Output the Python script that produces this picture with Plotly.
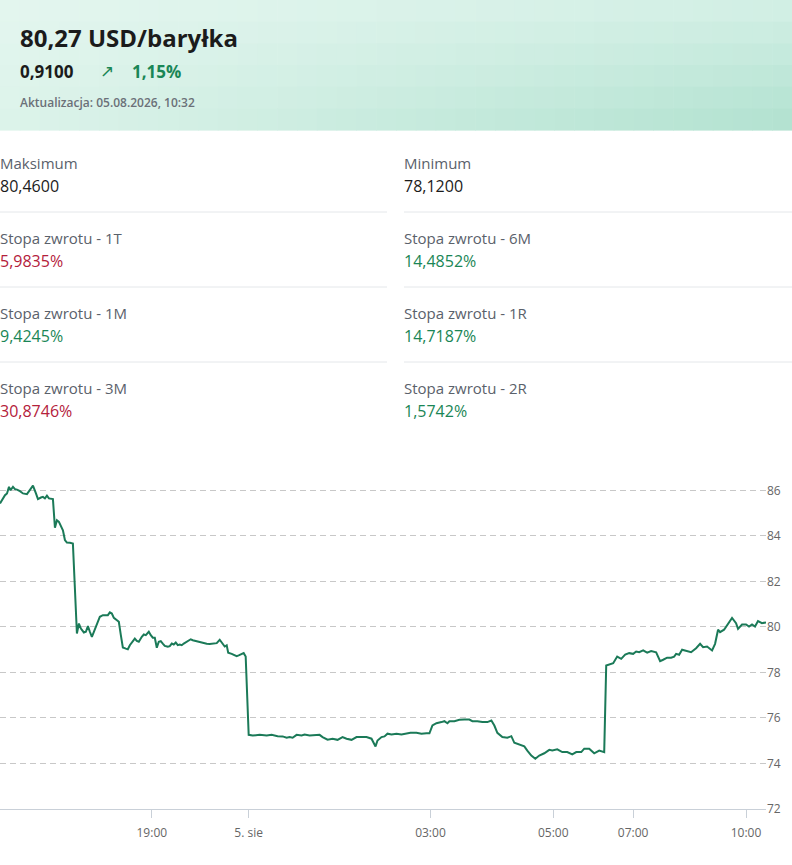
import plotly.graph_objects as go

# ---------------- data ----------------
title_text = "80,27 USD/baryłka"
change_abs = "0,9100"
change_pct = "1,15%"
updated_text = "Aktualizacja: 05.08.2026, 10:32"

stat_labels_left = ["Maksimum", "Stopa zwrotu - 1T", "Stopa zwrotu - 1M", "Stopa zwrotu - 3M"]
stat_values_left = ["80,4600", "5,9835%", "9,4245%", "30,8746%"]
stat_kinds_left = ["neutral", "neg", "pos", "neg"]
stat_labels_right = ["Minimum", "Stopa zwrotu - 6M", "Stopa zwrotu - 1R", "Stopa zwrotu - 2R"]
stat_values_right = ["78,1200", "14,4852%", "14,7187%", "1,5742%"]
stat_kinds_right = ["neutral", "pos", "pos", "pos"]

# ordinal (gap-less) position of each quote along the session, and price in USD
ordinal_x = [
    0, 3, 5, 7, 9, 10.5, 13, 15, 17, 20,
    23, 27, 30, 33, 36, 38, 41, 43, 45, 47,
    49, 51, 53, 55, 57, 59, 61, 63, 65, 67,
    70, 73, 77, 79, 81, 84, 86, 88, 90, 92,
    94, 96, 98, 100, 103, 106, 108, 110, 112, 114,
    117, 119, 121, 123, 126, 128, 130, 133, 135, 137,
    139, 142, 144, 146, 149, 151, 153, 155, 157, 159,
    161, 163, 165, 168, 170, 172, 174, 176, 178, 180,
    182, 184, 187, 189, 191, 193, 196, 199, 203, 207,
    210, 213, 217, 220, 223, 225, 227, 228.5, 232, 237,
    239, 242, 244, 246, 249, 253, 260, 267, 272, 278,
    283, 287, 290, 293, 297, 302, 305, 310, 315, 320,
    323, 328, 333, 338, 343, 347, 352, 357, 362, 367,
    372, 376, 378, 382, 385, 388, 392, 397, 402, 407,
    411, 417, 422, 427, 430, 433, 437, 442, 445, 448,
    450, 455, 460, 465, 470, 473, 478, 483, 488, 492,
    495, 498, 503, 508, 512, 515, 520, 525, 528, 532,
    536, 540, 545, 550, 553, 558, 563, 568, 573, 577,
    582, 585, 590, 595, 600, 605, 607, 612, 614, 618,
    622, 626, 630, 634, 637, 640, 644, 648, 652, 657,
    661, 664, 668, 672, 675, 677, 680, 683, 687, 692,
    697, 701, 704, 708, 713, 716, 719, 721, 725, 728,
    733, 737, 739, 743, 747, 750, 753, 756, 759, 763, 767,
]
price = [
    85.43, 85.65, 85.79, 85.87, 86.16, 86.01, 86.16, 86.06, 86.04, 85.97,
    85.87, 85.84, 86.01, 86.21, 85.87, 85.62, 85.69, 85.72, 85.65, 85.77,
    85.65, 85.62, 85.62, 84.36, 84.69, 84.62, 84.40, 84.25, 83.82, 83.71,
    83.70, 83.67, 79.71, 80.15, 79.93, 79.76, 79.79, 80.04, 79.79, 79.57,
    79.79, 80.01, 80.30, 80.45, 80.52, 80.52, 80.52, 80.64, 80.59, 80.40,
    80.30, 80.23, 79.64, 79.10, 79.05, 79.02, 79.20, 79.35, 79.49, 79.39,
    79.35, 79.57, 79.67, 79.64, 79.79, 79.64, 79.53, 79.53, 79.09, 79.35,
    79.38, 79.27, 79.17, 79.13, 79.16, 79.27, 79.23, 79.32, 79.20, 79.23,
    79.20, 79.27, 79.35, 79.39, 79.46, 79.42, 79.38, 79.35, 79.30, 79.26,
    79.25, 79.26, 79.29, 79.44, 79.26, 79.14, 79.19, 78.87, 78.82, 78.72,
    78.75, 78.82, 78.85, 78.70, 75.26, 75.23, 75.26, 75.23, 75.26, 75.20,
    75.19, 75.13, 75.16, 75.13, 75.26, 75.23, 75.27, 75.23, 75.23, 75.26,
    75.16, 75.05, 75.09, 75.04, 75.16, 75.09, 75.04, 75.16, 75.16, 75.16,
    75.09, 74.75, 75.01, 75.16, 75.19, 75.31, 75.27, 75.31, 75.27, 75.31,
    75.35, 75.35, 75.31, 75.33, 75.33, 75.67, 75.77, 75.82, 75.86, 75.77,
    75.86, 75.86, 75.92, 75.93, 75.93, 75.86, 75.86, 75.82, 75.82, 75.89,
    75.67, 75.35, 75.16, 75.13, 75.20, 74.91, 74.84, 74.75, 74.57, 74.35,
    74.21, 74.35, 74.45, 74.60, 74.57, 74.62, 74.50, 74.50, 74.40, 74.50,
    74.50, 74.65, 74.65, 74.45, 74.57, 74.50, 78.31, 78.38, 78.41, 78.70,
    78.60, 78.79, 78.85, 78.82, 78.92, 78.89, 78.97, 78.87, 78.94, 78.89,
    78.50, 78.56, 78.65, 78.65, 78.70, 78.82, 78.78, 79.00, 78.94, 78.89,
    79.07, 79.26, 79.11, 79.14, 78.97, 79.26, 79.88, 79.77, 79.88, 80.07,
    80.40, 80.17, 79.92, 80.11, 80.11, 80.02, 80.11, 80.02, 80.26, 80.17, 80.20,
]

x_tick_pos = [152, 249, 431, 554, 634, 747]
x_tick_labels = ["19:00", "5. sie", "03:00", "05:00", "07:00", "10:00"]
y_ticks = [72, 74, 76, 78, 80, 82, 84, 86]

# ---------------- styling / layout ----------------
W, H = 792, 865
FONT = "Open Sans"
GREEN = "#1a8656"
RED = "#b4213b"
LINE = "#1b7a58"


def px(x):
    return x / W


def py(y):
    return 1 - y / H


fig = go.Figure()
fig.add_trace(go.Scatter(
    x=ordinal_x, y=price, mode="lines",
    line=dict(color=LINE, width=2), hoverinfo="skip",
))

shapes = []
# header gradient
c_tl = (228, 246, 239)
c_tr = (212, 240, 230)
c_bl = (220, 243, 234)
c_br = (176, 225, 207)
NX, NY = 40, 6
header_h = 130
for i in range(NX):
    for j in range(NY):
        u = (i + 0.5) / NX
        v = (j + 0.5) / NY
        col = tuple(
            round((1 - u) * (1 - v) * a + u * (1 - v) * b + (1 - u) * v * c + u * v * d)
            for a, b, c, d in zip(c_tl, c_tr, c_bl, c_br)
        )
        shapes.append(dict(
            type="rect", xref="paper", yref="paper", layer="below",
            x0=px(W * i / NX), x1=px(W * (i + 1) / NX + 0.6),
            y0=py(header_h * j / NY), y1=py(header_h * (j + 1) / NY + 0.6),
            fillcolor="rgb(%d,%d,%d)" % col, line=dict(width=0),
        ))

# dividers between stat rows
for yy in [212, 287, 362]:
    shapes.append(dict(type="line", xref="paper", yref="paper", x0=px(0), x1=px(387),
                       y0=py(yy), y1=py(yy), line=dict(color="#e4e7ea", width=1)))
    shapes.append(dict(type="line", xref="paper", yref="paper", x0=px(404), x1=px(792),
                       y0=py(yy), y1=py(yy), line=dict(color="#e4e7ea", width=1)))

ann = []


def text(x, y, s, size, color, weight="normal", family=FONT):
    ann.append(dict(x=px(x), y=py(y), xref="paper", yref="paper", text=s, showarrow=False,
                    xanchor="left", yanchor="middle",
                    font=dict(family=family, size=size, color=color, weight=weight)))


text(18, 38, title_text, 24, "#1b1b1b", "bold")
text(18, 71, change_abs, 17, "#1b1b1b", "bold")
text(98, 71, "↗", 17, GREEN, "normal", "DejaVu Sans")
text(130, 71, change_pct, 17, GREEN, "bold")
text(18, 102, updated_text, 12, "#6b7078", 600)

kind_color = {"neutral": "#1b1b1b", "pos": GREEN, "neg": RED}
row_y = [163, 238, 313, 388]
for k in range(4):
    text(-2, row_y[k], stat_labels_left[k], 15, "#5a616b", 500)
    text(-2, row_y[k] + 23, stat_values_left[k], 16, kind_color[stat_kinds_left[k]], 500)
    text(402, row_y[k], stat_labels_right[k], 15, "#5a616b", 500)
    text(402, row_y[k] + 23, stat_values_right[k], 16, kind_color[stat_kinds_right[k]], 500)

fig.update_layout(
    width=W, height=H, margin=dict(l=0, r=0, t=0, b=0),
    paper_bgcolor="white", plot_bgcolor="white", showlegend=False,
    shapes=shapes, annotations=ann,
    font=dict(family=FONT),
    xaxis=dict(
        domain=[0, 766 / W], range=[0, 767], tickmode="array",
        tickvals=x_tick_pos, ticktext=x_tick_labels,
        showgrid=False, zeroline=False, showline=True, linecolor="#c9d0d8", linewidth=1,
        ticks="outside", ticklen=8, tickcolor="#c9d0d8", tickwidth=1,
        ticklabelstandoff=5,
        tickfont=dict(family=FONT, size=12, color="#666666"), automargin=False,
        fixedrange=True,
    ),
    yaxis=dict(
        domain=[py(809), py(479.1)], range=[72, 86.5], side="right",
        tickmode="array", tickvals=y_ticks, showgrid=True, gridcolor="#c8c8c8",
        griddash="6px,4px", gridwidth=1, zeroline=False, showline=False, ticks="",
        tickfont=dict(family=FONT, size=12, color="#666666"), automargin=False,
        fixedrange=True,
    ),
)

fig.write_html(
    "out.html",
    config={"displayModeBar": False, "staticPlot": True},
    post_script="document.body.style.margin='0';document.body.style.padding='0';",
)
